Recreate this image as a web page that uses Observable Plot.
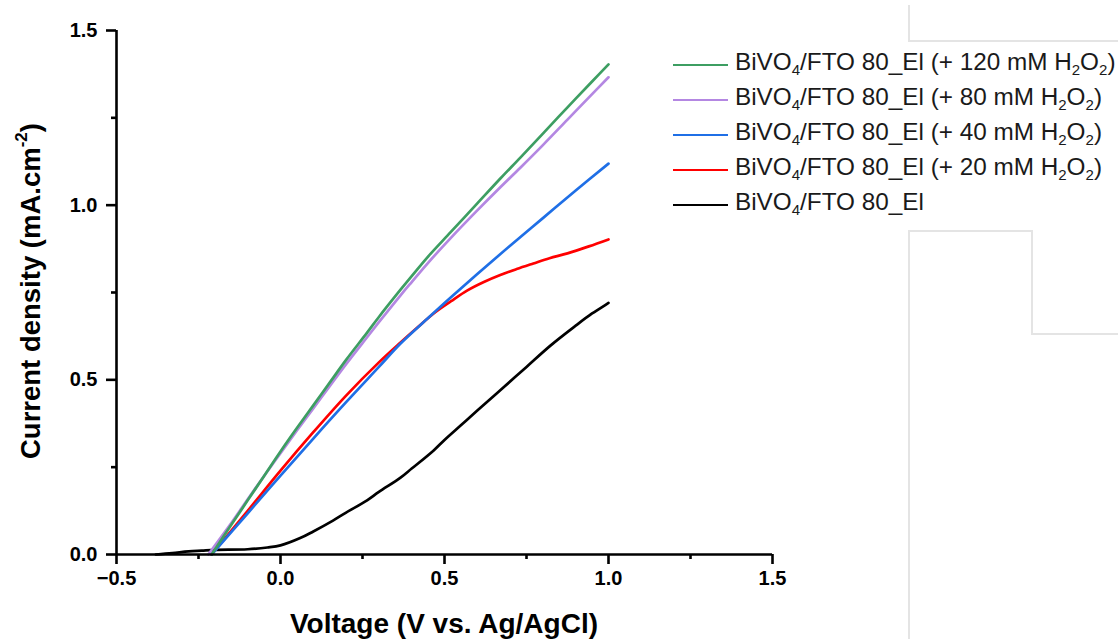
<!DOCTYPE html>
<html>
<head>
<meta charset="utf-8">
<script src="https://cdn.jsdelivr.net/npm/d3@7"></script>
<script src="https://cdn.jsdelivr.net/npm/@observablehq/plot@0.6"></script>
<style>
  html, body { margin: 0; padding: 0; background: #fff; }
  #wrap { position: relative; width: 1118px; height: 639px; overflow: hidden; font-family: "Liberation Sans", Arial, sans-serif; }
  #chart { position: absolute; left: 0; top: 0; }
  .ytitle { position: absolute; left: 31px; top: 291px; transform: translate(-50%, -50%) rotate(-90deg); white-space: nowrap; font-weight: bold; font-size: 27.5px; color: #000; }
  .xtitle { position: absolute; left: 444px; top: 608px; transform: translateX(-50%); white-space: nowrap; font-weight: bold; font-size: 28px; color: #000; }
  sup { font-size: 0.62em; vertical-align: 0.75em; line-height: 0; }
  sub { font-size: 0.62em; vertical-align: -0.3em; line-height: 0; }
  #legend { position: absolute; left: 673px; top: 47px; }
  .row { position: relative; height: 35px; white-space: nowrap; font-size: 24.3px; color: #1a1a1a; }
  .row .sw { position: absolute; left: 0; top: 17px; width: 55px; height: 2.2px; }
  .row .lab { position: absolute; left: 62px; top: 1px; }
  .frame { position: absolute; background: #e4e4e4; }
</style>
</head>
<body>
<div id="wrap">
  <div class="frame" style="left:908px; top:5px; width:1.5px; height:36px;"></div>
  <div class="frame" style="left:908px; top:40px; width:210px; height:1.5px;"></div>
  <div class="frame" style="left:908px; top:230px; width:123px; height:1.5px;"></div>
  <div class="frame" style="left:908px; top:230px; width:1.5px; height:409px;"></div>
  <div class="frame" style="left:1031px; top:230px; width:1.5px; height:104px;"></div>
  <div class="frame" style="left:1031px; top:333px; width:87px; height:1.5px;"></div>
  <div id="chart"></div>
  <div class="ytitle">Current density (mA.cm<sup>-2</sup>)</div>
  <div class="xtitle">Voltage (V vs. Ag/AgCl)</div>
  <div id="legend"></div>
</div>
<script>
// ---- data ----
const seriesNames = ["+ 120 mM", "+ 80 mM", "+ 40 mM", "+ 20 mM", "none"];
const seriesColors = ["#3d9e62", "#b487e2", "#1f6fe6", "#ff0000", "#000000"];
const legendLabels = [
  "BiVO<sub>4</sub>/FTO 80_El (+ 120 mM H<sub>2</sub>O<sub>2</sub>)",
  "BiVO<sub>4</sub>/FTO 80_El (+ 80 mM H<sub>2</sub>O<sub>2</sub>)",
  "BiVO<sub>4</sub>/FTO 80_El (+ 40 mM H<sub>2</sub>O<sub>2</sub>)",
  "BiVO<sub>4</sub>/FTO 80_El (+ 20 mM H<sub>2</sub>O<sub>2</sub>)",
  "BiVO<sub>4</sub>/FTO 80_El"
];

const v120 = [-0.21, -0.15, -0.1, -0.05, 0.0, 0.05, 0.1, 0.15, 0.2, 0.264, 0.3, 0.366, 0.4, 0.45, 0.518, 0.6, 0.671, 0.732, 0.8, 0.875, 0.95, 1.0];
const j120 = [0, 0.085, 0.155, 0.225, 0.295, 0.362, 0.427, 0.492, 0.557, 0.635, 0.68, 0.758, 0.797, 0.853, 0.922, 1.005, 1.077, 1.137, 1.205, 1.28, 1.354, 1.403];

const v80 = [-0.22, -0.15, -0.1, -0.05, 0.0, 0.05, 0.1, 0.15, 0.2, 0.264, 0.3, 0.366, 0.4, 0.45, 0.518, 0.6, 0.671, 0.732, 0.8, 0.875, 0.95, 1.0];
const j80 = [0, 0.09, 0.158, 0.225, 0.29, 0.355, 0.418, 0.482, 0.545, 0.622, 0.665, 0.742, 0.78, 0.835, 0.905, 0.985, 1.052, 1.108, 1.172, 1.245, 1.318, 1.366];

const v40 = [-0.21, -0.1, 0.0, 0.1, 0.2, 0.3, 0.366, 0.45, 0.518, 0.6, 0.7, 0.8, 0.9, 1.0];
const j40 = [0, 0.118, 0.226, 0.332, 0.436, 0.537, 0.604, 0.677, 0.735, 0.803, 0.884, 0.963, 1.042, 1.119];

const v20 = [-0.21, -0.1, 0.0, 0.1, 0.2, 0.3, 0.366, 0.42, 0.467, 0.52, 0.57, 0.62, 0.67, 0.72, 0.771, 0.82, 0.875, 0.94, 1.0];
const j20 = [0, 0.125, 0.24, 0.35, 0.455, 0.55, 0.607, 0.652, 0.69, 0.725, 0.756, 0.78, 0.80, 0.817, 0.833, 0.848, 0.862, 0.882, 0.902];

const v0 = [-0.38, -0.33, -0.28, -0.24, -0.2, -0.1, -0.04, 0.0, 0.06, 0.1, 0.16, 0.2, 0.264, 0.3, 0.366, 0.4, 0.467, 0.5, 0.55, 0.6, 0.67, 0.75, 0.823, 0.9, 0.95, 0.99, 1.0];
const j0 = [0, 0.004, 0.009, 0.011, 0.013, 0.015, 0.02, 0.026, 0.047, 0.066, 0.097, 0.12, 0.155, 0.179, 0.22, 0.246, 0.298, 0.328, 0.37, 0.412, 0.47, 0.537, 0.598, 0.655, 0.69, 0.714, 0.72];

const xMajor = [-0.5, 0, 0.5, 1.0, 1.5];
const xMinor = [-0.25, 0.25, 0.75, 1.25];
const yMajor = [0, 0.5, 1.0, 1.5];
const yMinor = [0.25, 0.75, 1.25];

// ---- build table ----
const vs = [v120, v80, v40, v20, v0];
const js = [j120, j80, j40, j20, j0];
const rows = [];
// draw order: black first, green last on top
for (let s = seriesNames.length - 1; s >= 0; s--) {
  vs[s].forEach((v, i) => rows.push({series: seriesNames[s], v, j: js[s][i]}));
}

const fmt = d3.format(".1f");
const chart = Plot.plot({
  width: 1118,
  height: 639,
  marginLeft: 116,
  marginRight: 346,
  marginTop: 30,
  marginBottom: 85,
  style: {fontFamily: "'Liberation Sans', Arial, sans-serif", background: "transparent", color: "#000"},
  x: {domain: [-0.5, 1.5]},
  y: {domain: [0, 1.5]},
  color: {domain: seriesNames, range: seriesColors},
  marks: [
    Plot.line(rows, {x: "v", y: "j", z: "series", stroke: "series", strokeWidth: 2.7, curve: "catmull-rom"}),
    Plot.ruleY([0], {stroke: "#000", strokeWidth: 2.6}),
    Plot.ruleX([-0.5], {stroke: "#000", strokeWidth: 2.6}),
    Plot.axisX({ticks: xMajor, tickSize: 10, tickPadding: 6, tickFormat: fmt, label: null, fontSize: 20, fontWeight: "bold", strokeWidth: 2.6}),
    Plot.axisX({ticks: xMinor, tickSize: 5, tickFormat: () => "", label: null, strokeWidth: 2.6}),
    Plot.axisY({ticks: yMajor, tickSize: 10, tickPadding: 9, tickFormat: fmt, label: null, fontSize: 20, fontWeight: "bold", strokeWidth: 2.6}),
    Plot.axisY({ticks: yMinor, tickSize: 5, tickFormat: () => "", label: null, strokeWidth: 2.6})
  ]
});
document.getElementById("chart").appendChild(chart);

// ---- legend ----
const legend = document.getElementById("legend");
seriesNames.forEach((name, i) => {
  const row = document.createElement("div");
  row.className = "row";
  row.innerHTML = `<div class="sw" style="background:${seriesColors[i]}"></div><div class="lab">${legendLabels[i]}</div>`;
  legend.appendChild(row);
});
</script>
</body>
</html>
